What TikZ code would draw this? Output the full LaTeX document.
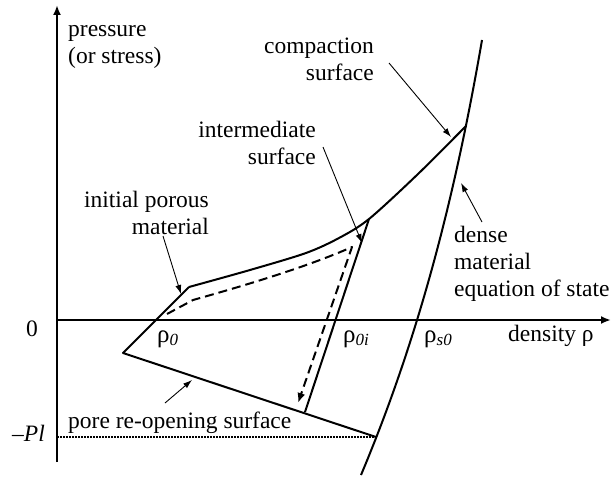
\documentclass[tikz,border=0pt]{standalone}
\usepackage{fontspec}
\setmainfont{Liberation Serif}
\usetikzlibrary{arrows.meta}

\newcommand{\rhosub}[1]{{\fontsize{25}{25}\selectfont ρ}\raisebox{-3pt}{\fontsize{17}{17}\selectfont\itshape #1}}

\begin{document}
\begin{tikzpicture}[
  x=1pt, y=-1pt,
  txt/.style={font=\fontsize{23.5}{27}\selectfont, inner sep=0pt},
  curve/.style={line width=2pt, line join=round},
  pointer/.style={-{Latex[length=9pt, width=6pt]}, line width=0.9pt},
  >={Latex[length=10pt, width=8pt]}
]
\useasboundingbox (0,0) rectangle (612,476);

% axes
\coordinate (ybot) at (57,462);
\coordinate (ytop) at (57,5);
\coordinate (xbeg) at (57,320);
\coordinate (xend) at (611,320);
\draw[->, curve] (ybot) -- (ytop);
\draw[->, curve] (xbeg) -- (xend);

% points on the curves
\coordinate (corner) at (123,353);
\coordinate (knee)   at (189,287);
\coordinate (inter)  at (369,219);
\coordinate (full)   at (466,126);
\coordinate (unload) at (305,412);
\coordinate (plim)   at (376,437);
\coordinate (plaxis) at (57,437);
\coordinate (eostop) at (482,40);
\coordinate (eosbot) at (361,475);

\draw[curve] (plim) -- (corner) -- (knee);
\draw[curve] plot[smooth, tension=0.5] coordinates {(knee) (250,270) (306,253) (339,238) (inter) (418,174) (full)};
\draw[curve] (eostop) .. controls (457,185) and (422,330) .. (eosbot);
\draw[curve] (inter) -- (unload);
\draw[line width=1.5pt, dash pattern=on 1.5pt off 1.5pt] (plaxis) -- (plim);

% dashed load / unload path
\coordinate (d0)    at (167,314);
\coordinate (d1)    at (193,300);
\coordinate (dturn) at (352,247);
\coordinate (dtip)  at (298,403);
\draw[->, curve, dash pattern=on 9pt off 5pt] (d0) -- (d1) .. controls (243,286) and (307,267) .. (dturn) -- (dtip);

% labels
\node[txt, align=left, anchor=west]  (ylabel)   at (68,44)   {\vphantom{l}pressure\\(or stress)};
\node[txt, align=right, anchor=east] (complbl)  at (374,59)  {compaction\\surface};
\node[txt, align=right, anchor=east] (intlbl)   at (316,143) {intermediate\\surface};
\node[txt, align=right, anchor=east] (initlbl)  at (209,213) {initial porous\\material};
\node[txt, align=left, anchor=west]  (denselbl) at (454,264) {dense\\material\\equation of state};
\node[txt, anchor=west]              (porelbl)  at (68,423)  {pore re-opening surface};
\node[txt]                           (zero)     at (32,329)  {0};
\node[txt, anchor=east]              (pllbl)    at (45,433)  {–\textit{Pl}};
\node[txt, anchor=base west]         (rho0)     at (157,342) {\rhosub{0}};
\node[txt, anchor=base west]         (rho0i)    at (343,342) {\rhosub{0i}};
\node[txt, anchor=base west]         (rhos0)    at (424,342) {\rhosub{s0}};
\node[txt, anchor=base west]         (xlabel)   at (508,341) {density ρ};

% pointers
\coordinate (pc0) at (389,63);  \coordinate (pc1) at (451,137);
\coordinate (pi0) at (323,147); \coordinate (pi1) at (362,243);
\coordinate (pp0) at (163,236); \coordinate (pp1) at (181,294);
\coordinate (pd0) at (482,222); \coordinate (pd1) at (461,183);
\coordinate (pr0) at (165,403); \coordinate (pr1) at (192,380);
\draw[pointer] (pc0) -- (pc1);
\draw[pointer] (pi0) -- (pi1);
\draw[pointer] (pp0) -- (pp1);
\draw[pointer] (pd0) -- (pd1);
\draw[pointer] (pr0) -- (pr1);
\end{tikzpicture}
\end{document}
